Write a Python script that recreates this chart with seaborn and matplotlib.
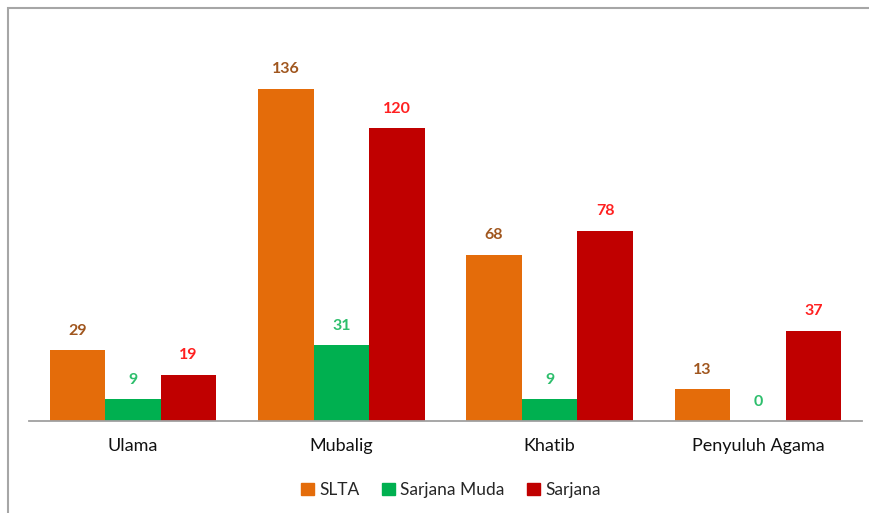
import pandas as pd
import numpy as np
import matplotlib
matplotlib.use("Agg")
import matplotlib.pyplot as plt
import seaborn as sns
from matplotlib.patches import Rectangle

# data
categories = ["Ulama", "Mubalig", "Khatib", "Penyuluh Agama"]
series = ["SLTA", "Sarjana Muda", "Sarjana"]
slta = [29, 136, 68, 13]
sarjana_muda = [9, 31, 9, 0]
sarjana = [19, 120, 78, 37]

bar_colors = ["#E46C0A", "#00B050", "#C00000"]
label_colors = ["#A0561E", "#2DBE6C", "#FF2020"]

df = pd.DataFrame({
    "kategori": categories * 3,
    "pendidikan": [s for s in series for _ in categories],
    "jumlah": slta + sarjana_muda + sarjana,
})

sns.set_theme(style="white")
plt.rcParams["font.family"] = ["Lato", "DejaVu Sans"]

fig = plt.figure(figsize=(8.69, 5.13), dpi=100)
ax = fig.add_axes([29 / 869, 92 / 513, 833 / 869, 390.6 / 513])

sns.barplot(data=df, x="kategori", y="jumlah", hue="pendidikan",
            order=categories, hue_order=series, palette=bar_colors,
            width=0.8, saturation=1, linewidth=0, ax=ax, legend=False)

# value labels
for i, cont in enumerate(ax.containers):
    ax.bar_label(cont, padding=9, color=label_colors[i], fontsize=11.5,
                 fontweight="bold")

ax.set_xlim(-0.5, 3.5)
ax.set_ylim(0, 160)
ax.set_xlabel("")
ax.set_ylabel("")
ax.set_yticks([])
ax.tick_params(axis="x", length=0, pad=12, labelsize=13, colors="#111111")
for side in ["left", "right", "top"]:
    ax.spines[side].set_visible(False)
ax.spines["bottom"].set_color("#A0A0A0")
ax.spines["bottom"].set_linewidth(1.3)

# legend
handles = [Rectangle((0, 0), 1, 1, color=c) for c in bar_colors]
fig.legend(handles, series, loc="center", bbox_to_anchor=(451 / 869, 1 - 490 / 513),
           ncol=3, frameon=False, fontsize=12.5, handlelength=0.75, handleheight=0.75,
           handletextpad=0.3, columnspacing=1.3)

# chart border
fig.patches.append(Rectangle((8 / 869, -0.05), 1.0, 1 - 8 / 513 + 0.05,
                             transform=fig.transFigure, fill=False,
                             edgecolor="#A6A6A6", linewidth=1.5))

fig.savefig("out.png", dpi=100)
